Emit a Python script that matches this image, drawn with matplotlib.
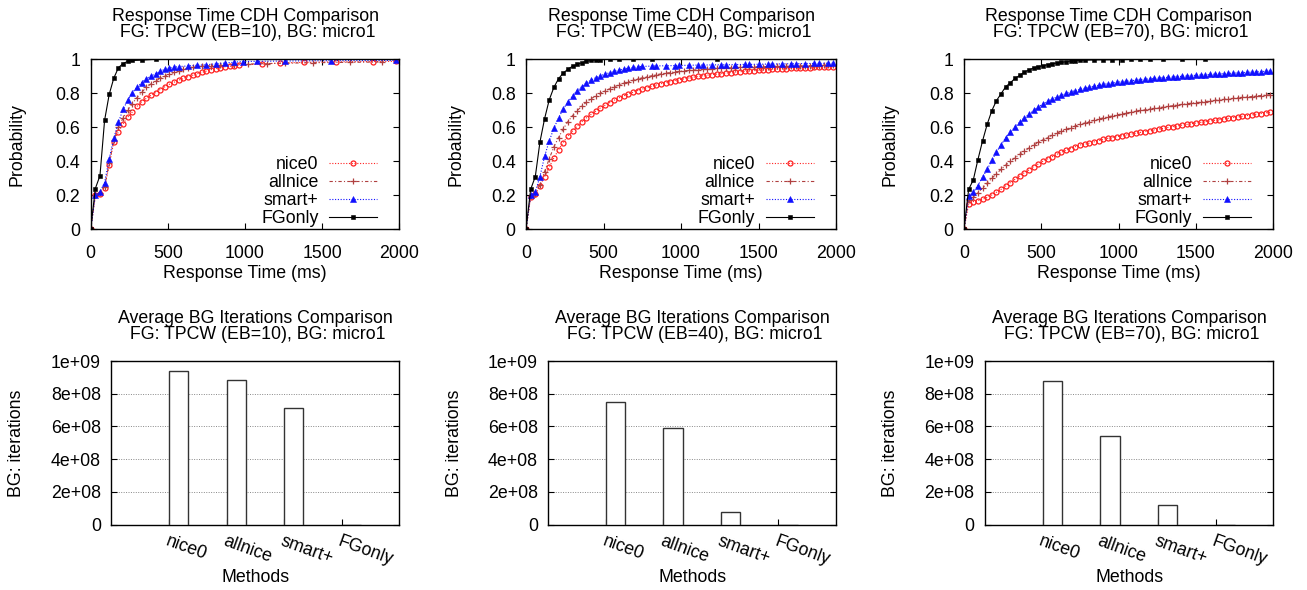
import numpy as np
import matplotlib
matplotlib.use('Agg')
import matplotlib.pyplot as plt
from matplotlib.ticker import FormatStrFormatter

plt.rcParams['font.family'] = ['Liberation Sans', 'DejaVu Sans']
plt.rcParams['font.size'] = 12.8

n = float('nan')

# response time grid (ms)
TIME = [0, 30, 60, 90, 120, 150, 180, 210, 240, 270,
        300, 330, 360, 390, 420, 450, 480, 510, 540, 570,
        600, 630, 660, 690, 720, 750, 780, 810, 840, 870,
        900, 930, 960, 990, 1020, 1050, 1080, 1110, 1140, 1170,
        1200, 1230, 1260, 1290, 1320, 1350, 1380, 1410, 1440, 1470,
        1500, 1530, 1560, 1590, 1620, 1650, 1680, 1710, 1740, 1770,
        1800, 1830, 1860, 1890, 1920, 1950, 1980]

# EB=10
eb10_nice0 = [0, .20, .21, .245, .38, .515, .575, .62, .66, .69,
              .723, .75, .77, .788, .804, .822, .838, .853, .865, .877,
              .888, .898, .906, .915, .923, .931, .939, .945, .951, .956,
              .959, .962, .967, n, n, n, n, .972, n, n,
              n, .978, n, n, n, n, .982, n, n, n,
              n, n, n, .985, n, n, n, n, n, n,
              n, .987, n, n, n, n, .988]
eb10_allnice = [0, .20, .215, .25, .39, .525, .60, .655, .70, .74,
                .775, .805, .835, .855, .871, .888, .90, .912, .923, .933,
                .941, .948, .954, n, .959, n, .963, n, .966, n,
                n, .969, n, n, .972, n, n, n, .975, n,
                n, n, .977, n, n, n, n, n, .98, n,
                n, n, n, n, n, n, .982, n, n, n,
                n, n, n, .984, n, n, n]
eb10_smart = [0, .20, .22, .275, .415, .537, .631, .706, .759, .804,
              .835, .862, .886, .902, .914, .929, .941, .949, .953, .957,
              n, .961, n, .965, n, .968, n, .973, n, .978,
              n, .983, n, .987, n, n, .988, n, n, n,
              n, n, .99, n, n, n, n, n, n, n,
              n, n, .992, n, n, n, n, n, n, n,
              n, n, n, n, n, n, .993]
eb10_fgonly = [0, .24, .315, .641, .794, .89, .951, .975, .988, .993,
               n, .995, n, n, 1.0, n, n, n, n, n,
               n, n, n, n, n, n, n, n, n, n,
               n, n, n, n, n, n, n, n, n, n,
               n, n, n, n, n, n, n, n, n, n,
               n, n, n, n, n, n, n, n, n, n,
               n, n, n, n, n, n, n]

# EB=40
eb40_nice0 = [0, .192, .205, .255, .31, .365, .42, .468, .51, .548,
              .578, .607, .632, .656, .676, .695, .714, .73, .745, .76,
              .773, .785, .796, .806, .816, .825, .833, .841, .849, .856,
              .863, .869, .875, .88, .885, .89, .895, .899, .903, .907,
              .91, .913, .916, .919, .922, .925, .927, .929, .931, .933,
              .935, .937, .939, .941, .942, .944, .945, .947, .948, .949,
              .95, .951, .952, .953, .954, .955, .956]
eb40_allnice = [0, .195, .21, .26, .34, .415, .485, .54, .59, .633,
                .668, .698, .724, .748, .768, .785, .80, .814, .827, .839,
                .849, .859, .868, .876, .884, .891, .897, .903, .909, .914,
                .918, .922, .926, .929, .932, .935, .937, .939, .941, .943,
                .945, .946, .948, .949, .95, .951, .952, .953, .954, .955,
                .956, .957, .957, .958, .959, .959, .96, .96, .961, .961,
                .962, .962, .963, .963, .964, .964, .965]
eb40_smart = [0, .20, .22, .31, .43, .52, .595, .655, .707, .748,
              .785, .815, .84, .862, .877, .892, .903, .913, .921, .929,
              .936, .943, .948, .952, .955, .958, n, .96, .961, n,
              .962, n, .963, .964, n, .965, n, .966, .966, n,
              .967, n, .968, .968, n, .969, n, .97, .97, n,
              .971, n, .972, .972, n, .973, n, .974, .974, n,
              .975, n, .976, .976, n, .977, .977]
eb40_fgonly = [0, .235, .31, .514, .651, .762, .835, .886, .919, .941,
               .959, .97, .98, .988, .993, .996, .998, n, 1.0, n,
               1.0, n, n, 1.0, n, n, n, 1.0, n, n,
               n, n, n, n, n, n, n, n, n, n,
               n, 1.0, n, n, n, n, n, n, n, n,
               n, n, n, n, n, n, n, n, n, n,
               n, n, n, n, n, n, n]

# EB=70
eb70_nice0 = [0, .149, .163, .169, .176, .188, .202, .218, .235, .255,
              .275, .294, .314, .333, .349, .369, .384, .40, .414, .427,
              .441, .453, .465, .475, .486, .496, .50, .507, .514, .522,
              .53, .535, .54, .545, .55, .555, .56, .565, .57, .575,
              .58, .585, .59, .594, .599, .604, .608, .613, .617, .621,
              .625, .629, .633, .637, .641, .645, .649, .653, .657, .661,
              .665, .669, .673, .677, .681, .685, .689]
eb70_allnice = [0, .173, .19, .215, .243, .272, .30, .327, .353, .378,
                .40, .421, .441, .46, .478, .495, .511, .526, .54, .553,
                .565, .577, .588, .598, .608, .617, .625, .633, .641, .648,
                .655, .661, .667, .673, .679, .684, .689, .694, .699, .703,
                .707, .711, .715, .719, .723, .727, .731, .735, .738, .742,
                .745, .748, .751, .755, .758, .761, .764, .767, .77, .773,
                .776, .778, .781, .784, .787, .789, .792]
eb70_smart = [0, .195, .218, .257, .307, .352, .405, .455, .498, .538,
              .571, .602, .63, .656, .677, .699, .719, .737, .753, .766,
              .778, .789, .799, .808, .816, .823, .83, .836, .842, .847,
              .852, .857, .861, .865, .868, .871, .874, .877, .88, .883,
              .885, .888, .89, .892, .894, .896, .898, .90, .902, .904,
              .906, .908, .909, .911, .913, .914, .916, .917, .919, .92,
              .922, .923, .925, .926, .928, .929, .931]
eb70_fgonly = [0, .235, .29, .41, .52, .618, .698, .757, .798, .839,
               .862, .888, .905, .925, .937, .949, .957, .962, .968, .974,
               .978, .982, .986, .99, .992, .994, .995, n, .996, n,
               .997, n, .997, n, .998, n, .999, n, .999, n,
               .999, n, n, 1.0, n, n, n, 1.0, n, n,
               n, n, 1.0, n, n, n, n, n, n, n,
               n, n, n, n, n, n, n]

# average BG iterations
METHODS = ['nice0', 'allnice', 'smart+', 'FGonly']
iters_eb10 = [9.41e8, 8.82e8, 7.15e8, 0]
iters_eb40 = [7.48e8, 5.89e8, 0.76e8, 0]
iters_eb70 = [8.78e8, 5.44e8, 1.2e8, 0]

EBS = [10, 40, 70]
cdh = {
    10: [eb10_nice0, eb10_allnice, eb10_smart, eb10_fgonly],
    40: [eb40_nice0, eb40_allnice, eb40_smart, eb40_fgonly],
    70: [eb70_nice0, eb70_allnice, eb70_smart, eb70_fgonly],
}
iters = {10: iters_eb10, 40: iters_eb40, 70: iters_eb70}

styles = [
    dict(color='#ff2020', ls=(0, (1, 1.5)), marker='o', mfc='none', mec='#ff2020', ms=3.6, mew=0.9),
    dict(color='#b04040', ls=(0, (3, 2, 1, 2)), marker='+', ms=4.5, mew=0.9),
    dict(color='#1010ff', ls=(0, (1, 1.5)), marker='^', ms=4, mew=0.4),
    dict(color='black', ls='-', marker='s', ms=3.4, mew=0.4),
]

W, H = 1307, 590
fig = plt.figure(figsize=(W / 100, H / 100), dpi=100)


def rect(x0, x1, ytop, ybot):
    return [x0 / W, 1 - ybot / H, (x1 - x0) / W, (ybot - ytop) / H]


top_x = [(90.7, 399.3), (526, 836), (964, 1273.3)]
bot_x = [(111.3, 399.3), (548.3, 836), (985, 1273.3)]
top_ylab = [-0.211, -0.2, -0.212]
bot_ylab = [-0.301, -0.295, -0.3]

for k, eb in enumerate(EBS):
    # response time CDH
    x0, x1 = top_x[k]
    ax = fig.add_axes(rect(x0, x1, 59.3, 229.3))
    t = np.array(TIME, dtype=float)
    for ys, st, lab in zip(cdh[eb], styles, METHODS):
        y = np.array(ys, dtype=float)
        m = ~np.isnan(y)
        ax.plot(t[m], y[m], lw=0.8, label=lab, **st)
    ax.set_xlim(0, 2000)
    ax.set_ylim(0, 1)
    ax.set_xticks([0, 500, 1000, 1500, 2000])
    ax.set_yticks([0, 0.2, 0.4, 0.6, 0.8, 1])
    ax.yaxis.set_major_formatter(FormatStrFormatter('%g'))
    ax.tick_params(direction='in', length=4, width=0.8, top=True, right=True)
    ax.tick_params(axis='x', pad=11)
    ax.tick_params(axis='y', pad=7.5)
    for s in ax.spines.values():
        s.set_linewidth(1.0)
    ax.set_xlabel('Response Time (ms)')
    ax.xaxis.set_label_coords(0.5, -0.21)
    ax.set_ylabel('Probability')
    ax.yaxis.set_label_coords(top_ylab[k], 0.5)
    ax.legend(loc='lower right', bbox_to_anchor=(0.928, 0.015), frameon=False,
              markerfirst=False, handlelength=2.7, handletextpad=0.6,
              labelspacing=0.05, borderpad=0, borderaxespad=0, numpoints=1)
    cx = (x0 + x1) / 2
    fig.text(cx / W, 1 - 20.7 / H, 'Response Time CDH Comparison',
             ha='center', va='baseline')
    fig.text(cx / W, 1 - 36.7 / H, ' FG: TPCW (EB=%d), BG: micro1' % eb,
             ha='center', va='baseline')

    # average BG iterations
    x0, x1 = bot_x[k]
    ax = fig.add_axes(rect(x0, x1, 361, 524.7))
    pos = np.arange(len(METHODS))
    ax.bar(pos, iters[eb], width=0.335, align='edge', color='white',
           edgecolor='#333333', lw=1.0, zorder=3)
    ax.set_xlim(-1, 4)
    ax.set_ylim(0, 1e9)
    ax.set_yticks([0, 2e8, 4e8, 6e8, 8e8, 1e9])
    ax.yaxis.set_major_formatter(FormatStrFormatter('%g'))
    ax.yaxis.grid(True, ls=(0, (1, 1.5)), color='#888888', lw=0.7)
    ax.set_xticks(pos)
    ax.set_xticklabels(METHODS, rotation=-20, ha='left', va='top',
                       rotation_mode='anchor')
    ax.tick_params(axis='x', direction='in', length=4, width=0.8, pad=6)
    ax.tick_params(axis='y', direction='in', length=4, width=0.8, right=True, pad=7.5)
    for s in ax.spines.values():
        s.set_linewidth(1.0)
    ax.set_xlabel('Methods')
    ax.xaxis.set_label_coords(0.5, -0.272)
    ax.set_ylabel('BG: iterations')
    ax.yaxis.set_label_coords(bot_ylab[k], 0.5)
    cx = (x0 + x1) / 2
    fig.text(cx / W, 1 - 323.3 / H, 'Average BG Iterations Comparison',
             ha='center', va='baseline')
    fig.text(cx / W, 1 - 339 / H, ' FG: TPCW (EB=%d), BG: micro1' % eb,
             ha='center', va='baseline')

fig.savefig('out.png', dpi=100)
